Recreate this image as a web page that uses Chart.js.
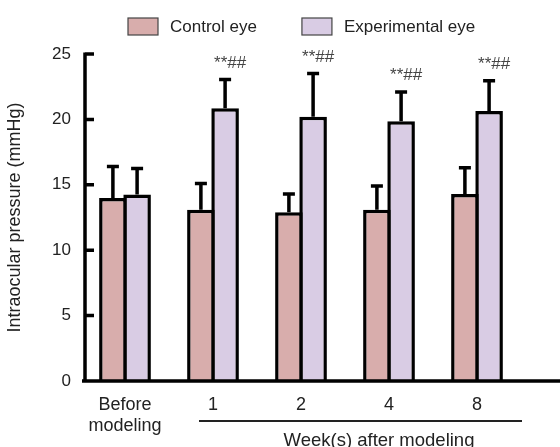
<!DOCTYPE html>
<html>
<head>
<meta charset="utf-8">
<script src="https://cdn.jsdelivr.net/npm/chart.js@4"></script>
<style>
  html, body { margin: 0; padding: 0; background: #fff; }
  canvas { display: block; }
</style>
</head>
<body>
<canvas id="iopChart" width="560" height="447"></canvas>
<script>
// Datos
const groups = [['Before', 'modeling'], '1', '2', '4', '8'];
const controlMean = [14.0, 13.1, 12.9, 13.1, 14.3];
const controlSD = [2.4, 2.0, 1.4, 1.8, 2.0];
const expMean = [14.25, 20.85, 20.2, 19.85, 20.65];
const expSD = [2.0, 2.2, 3.3, 2.25, 2.3];
const sigMarks = ['', '**##', '**##', '**##', '**##'];
const seriesNames = ['Control eye', 'Experimental eye'];
const xGroupTitle = 'Week(s) after modeling';
const yTitle = 'Intraocular pressure (mmHg)';

const colControl = '#d8adac';
const colExp = '#d9cce4';
const ink = '#222';
const FONT = 'Liberation Sans, Arial, sans-serif';

// barras de error (solo hacia arriba)
const errorBars = {
  id: 'errorBars',
  afterDatasetsDraw(chart) {
    const c = chart.ctx, y = chart.scales.y;
    const sds = [controlSD, expSD], means = [controlMean, expMean];
    c.save();
    c.strokeStyle = '#000';
    c.lineWidth = 3.5;
    chart.data.datasets.forEach((ds, di) => {
      chart.getDatasetMeta(di).data.forEach((bar, i) => {
        const top = y.getPixelForValue(means[di][i] + sds[di][i]);
        c.beginPath();
        c.moveTo(bar.x, bar.y);
        c.lineTo(bar.x, top);
        c.moveTo(bar.x - 6, top);
        c.lineTo(bar.x + 6, top);
        c.stroke();
        if (di === 1 && sigMarks[i]) {
          c.fillStyle = '#444';
          c.font = '17px ' + FONT;
          c.textAlign = 'center';
          c.textBaseline = 'alphabetic';
          c.fillText(sigMarks[i], bar.x + 5, top - 12);
        }
      });
    });
    c.restore();
  }
};

// ejes, leyenda y rótulo de semanas
const decor = {
  id: 'decor',
  afterDraw(chart) {
    const c = chart.ctx, x = chart.scales.x, y = chart.scales.y;
    const y0 = y.getPixelForValue(0);
    c.save();
    c.strokeStyle = '#000';
    c.lineWidth = 3.5;
    c.beginPath();
    c.moveTo(85, y.getPixelForValue(25) - 1.5);
    c.lineTo(85, y0);
    c.moveTo(82, y0);
    c.lineTo(560, y0);
    y.ticks.forEach(t => {
      const py = y.getPixelForValue(t.value);
      c.moveTo(85, py);
      c.lineTo(94, py);
    });
    c.stroke();

    // línea de agrupación
    c.lineWidth = 2;
    c.strokeStyle = '#222';
    c.beginPath();
    c.moveTo(x.getPixelForValue(1) - 14, 421);
    c.lineTo(chart.chartArea.right + 1, 421);
    c.stroke();
    c.fillStyle = ink;
    c.font = '18.5px ' + FONT;
    c.textAlign = 'center';
    c.textBaseline = 'alphabetic';
    c.fillText(xGroupTitle, 379, 446);

    // leyenda
    const cols = [colControl, colExp];
    let lx = 128;
    c.font = '17px ' + FONT;
    c.textAlign = 'left';
    c.textBaseline = 'middle';
    seriesNames.forEach((name, i) => {
      c.fillStyle = cols[i];
      c.fillRect(lx, 18, 30, 17);
      c.lineWidth = 1.2;
      c.strokeStyle = '#444';
      c.strokeRect(lx, 18, 30, 17);
      c.fillStyle = ink;
      c.fillText(name, lx + 42, 27);
      lx += 42 + c.measureText(name).width + 45;
    });
    c.restore();
  }
};

new Chart(document.getElementById('iopChart').getContext('2d'), {
  type: 'bar',
  data: {
    labels: groups,
    datasets: [
      { label: seriesNames[0], data: controlMean, backgroundColor: colControl, borderColor: '#000', borderWidth: 3.5 },
      { label: seriesNames[1], data: expMean, backgroundColor: colExp, borderColor: '#000', borderWidth: 3.5 }
    ]
  },
  options: {
    responsive: false,
    devicePixelRatio: 1,
    animation: false,
    categoryPercentage: 0.55,
    barPercentage: 1.14,
    layout: { padding: { top: 54, right: 39, left: 0, bottom: 0 } },
    plugins: { legend: { display: false }, tooltip: { enabled: false } },
    scales: {
      x: {
        grid: { display: false, drawTicks: false },
        border: { display: false },
        ticks: { color: ink, font: { size: 18, family: FONT }, padding: 13, maxRotation: 0 },
        afterFit(s) { s.height = 66; }
      },
      y: {
        min: 0, max: 25,
        grid: { display: false, drawTicks: false },
        border: { display: false },
        ticks: { stepSize: 5, color: ink, font: { size: 17, family: FONT }, padding: 10 },
        title: { display: true, text: yTitle, color: ink, font: { size: 18, family: FONT }, padding: { top: 4, bottom: 0 } },
        afterFit(s) { s.width = 81; }
      }
    }
  },
  plugins: [errorBars, decor]
});
</script>
</body>
</html>
